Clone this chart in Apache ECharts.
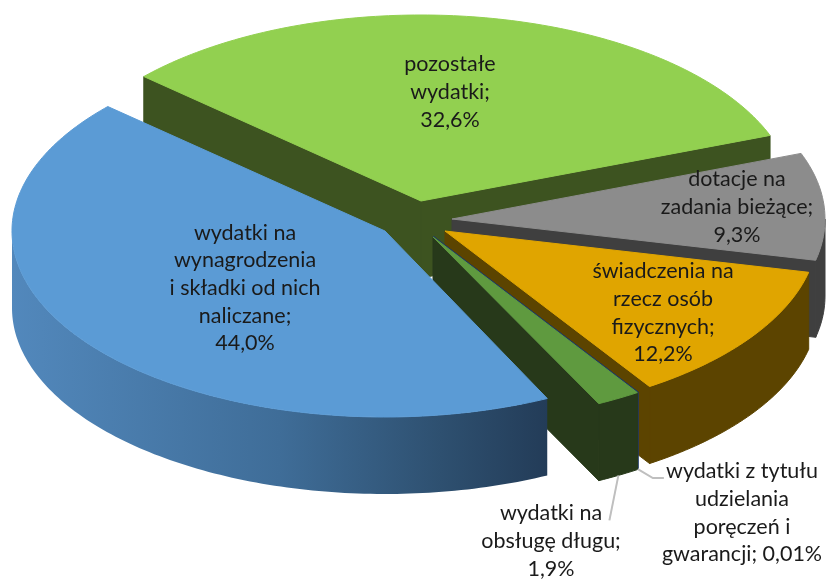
<!DOCTYPE html>
<html><head><meta charset="utf-8">
<style>html,body{margin:0;padding:0;background:#fff}#c{width:826px;height:579px}</style>
<script src="https://cdn.jsdelivr.net/npm/echarts@6/dist/echarts.min.js"></script>
</head><body><div id="c"></div>
<script>
// Data, clockwise from the far-left edge of the green slice
const categories = ['pozostałe wydatki','dotacje na zadania bieżące','świadczenia na rzecz osób fizycznych','wydatki z tytułu udzielania poręczeń i gwarancji','wydatki na obsługę długu','wydatki na wynagrodzenia i składki od nich naliczane'];
const values = [32.6, 9.3, 12.2, 0.01, 1.9, 44.0];
const labelTexts = ['pozostałe\nwydatki;\n32,6%','dotacje na\nzadania bieżące;\n9,3%','świadczenia na\nrzecz osób\nfizycznych;\n12,2%','wydatki z tytułu\nudzielania\nporęczeń i\ngwarancji; 0,01%','wydatki na\nobsługę długu;\n1,9%','wydatki na\nwynagrodzenia\ni składki od nich\nnaliczane;\n44,0%'];

// Layout and style
const topColors = ['#92d050','#8c8c8c','#e0a500','#1f3864','#5f9a3f','#5b9bd5'];
const wallColors = ['#3d5320','#3f3f3f','#5c4400','#1f3864','#27391a','#4f81b5'];
const apexes = [[421,201],[452,219],[445,231],[433.5,236.5],[433,237],[385,231]];
const labelCentres = [[450,92],[737,207],[663,313],[742,513],[551,541],[245,288]];
const startNudge = [0,0,0,0,0,0.6];
const RX = 373, RY = 186, DEPTH = 77, START = -48;

const total = values.reduce((a,b)=>a+b,0);
const cum = [0]; values.forEach(v=>cum.push(cum[cum.length-1]+v));
const toAngle = v => echarts.number.linearMap(v,[0,total],[START,START+360]);
const rad = d => d*Math.PI/180;
const rimPt = (i,t,dy=0)=>[apexes[i][0]+RX*Math.sin(rad(t)), apexes[i][1]-RY*Math.cos(rad(t))+dy];

function poly(points, fill, stroke){
  return {type:'polygon',silent:true,shape:{points},style:{fill,stroke:stroke||fill,lineWidth:1}};
}
function renderItem(params, api){
  const i = params.dataIndex;
  const a0 = toAngle(cum[i])+startNudge[i], a1 = toAngle(cum[i+1]);
  const apex = apexes[i], children = [];
  const wallFill = i===5
    ? new echarts.graphic.LinearGradient(0,0,1,0,[{offset:0,color:'#5288bc'},{offset:0.5,color:'#3f6d98'},{offset:0.8,color:'#2e5070'},{offset:1,color:'#233c58'}])
    : wallColors[i];
  const stroke = i===3 ? '#1f3864' : null;
  const cut = (t)=>{
    const p = rimPt(i,t);
    children.push(poly([apex,p,[p[0],p[1]+DEPTH],[apex[0],apex[1]+DEPTH]], wallColors[i===5?4:i], stroke));
  };
  if(Math.sin(rad(a0))<0) cut(a0);
  if(Math.sin(rad(a1))>0) cut(a1);
  // outer wall: only the near half of the rim faces the viewer
  const from = Math.max(a0,90), to = Math.min(a1,270);
  if(to>from){
    const up=[],down=[];
    for(let t=from;;t+=1){const c=Math.min(t,to);up.push(rimPt(i,c));down.unshift(rimPt(i,c,DEPTH));if(c>=to)break;}
    children.push({type:'polygon',silent:true,shape:{points:up.concat(down)},style:{fill:wallFill,stroke:i===5?null:(stroke||wallFill),lineWidth:1}});
  }
  // top face
  const face=[apex];
  for(let t=a0;;t+=1){const c=Math.min(t,a1);face.push(rimPt(i,c));if(c>=a1)break;}
  children.push(poly(face, topColors[i], stroke));
  return {type:'group',children};
}
function renderLabels(params, api){
  const i = params.dataIndex, children = [];
  if(i===3){
    const p = rimPt(i,toAngle(cum[4]),DEPTH);
    children.push({type:'polyline',silent:true,shape:{points:[p,[p[0]+15,p[1]+9],[p[0]+26,p[1]+9]]},style:{fill:null,stroke:'#bfbfbf',lineWidth:2}});
  }
  if(i===4){
    const p = rimPt(i,(toAngle(cum[4])+toAngle(cum[5]))/2,DEPTH);
    children.push({type:'line',silent:true,shape:{x1:p[0],y1:p[1],x2:p[0]-9,y2:p[1]+45},style:{stroke:'#bfbfbf',lineWidth:2}});
  }
  children.push({type:'text',silent:true,style:{text:labelTexts[i],x:labelCentres[i][0],y:labelCentres[i][1],align:'center',verticalAlign:'middle',font:'21.5px Lato',lineHeight:27.7,fill:'#1a1a1a'}});
  return {type:'group',children};
}
const seriesData = categories.map((name,i)=>({name,value:[values[i],i]}));
const chart = echarts.init(document.getElementById('c'),null,{renderer:'canvas'});
chart.setOption({
  animation:false,
  backgroundColor:'#fff',
  series:[
    {type:'custom',coordinateSystem:'none',data:seriesData,renderItem,z:1},
    {type:'custom',coordinateSystem:'none',data:seriesData,renderItem:renderLabels,z:2}
  ]
});
</script></body></html>
